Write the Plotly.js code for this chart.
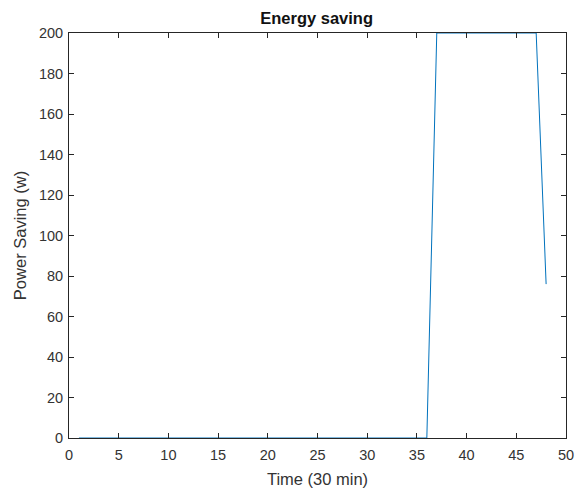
<!DOCTYPE html>
<html>
<head>
<meta charset="utf-8">
<script src="https://cdn.plot.ly/plotly-3.0.1.min.js"></script>
<style>html,body{margin:0;padding:0;background:#fff;}#chart{width:581px;height:489px;}</style>
</head>
<body>
<div id="chart"></div>
<script>
const timeSteps = [1,2,3,4,5,6,7,8,9,10,11,12,13,14,15,16,17,18,19,20,21,22,23,24,25,26,27,28,29,30,31,32,33,34,35,36,37,38,39,40,41,42,43,44,45,46,47,48];
const powerSaving = [0,0,0,0,0,0,0,0,0,0,0,0,0,0,0,0,0,0,0,0,0,0,0,0,0,0,0,0,0,0,0,0,0,0,0,0,200,200,200,200,200,200,200,200,200,200,200,76];
const xTicks = [0,5,10,15,20,25,30,35,40,45,50];
const yTicks = [0,20,40,60,80,100,120,140,160,180,200];

const FONT = 'Liberation Sans, Arial, sans-serif';
const axisCommon = {
  showgrid: false, zeroline: false, showline: true, mirror: 'ticks',
  linecolor: '#262626', linewidth: 1, ticks: 'inside', ticklen: 5,
  tickcolor: '#262626', tickwidth: 1,
  tickfont: {family: FONT, size: 14.5, color: '#333333'}
};

Plotly.newPlot('chart', [{
  x: timeSteps, y: powerSaving, type: 'scatter', mode: 'lines',
  line: {color: '#0072BD', width: 1}, hoverinfo: 'skip'
}], {
  width: 581, height: 489,
  margin: {l: 69, r: 15, t: 33, b: 51},
  paper_bgcolor: '#ffffff', plot_bgcolor: '#ffffff',
  showlegend: false,
  title: {text: '<b>Energy saving</b>', x: 0.545, xanchor: 'center', y: 0.963, yanchor: 'middle',
          font: {family: FONT, size: 16.5, color: '#111'}},
  xaxis: Object.assign({}, axisCommon, {
    range: [0, 50], tickvals: xTicks, ticktext: xTicks.map(String),
    ticklabelstandoff: 4,
    title: {text: 'Time (30 min)', standoff: 11, font: {family: FONT, size: 16.5, color: '#333333'}}
  }),
  yaxis: Object.assign({}, axisCommon, {
    range: [0, 200], tickvals: yTicks, ticktext: yTicks.map(String),
    ticklabelstandoff: 2,
    title: {text: 'Power Saving (w)', standoff: 8, font: {family: FONT, size: 16.5, color: '#333333'}}
  })
}, {staticPlot: true});
</script>
</body>
</html>
